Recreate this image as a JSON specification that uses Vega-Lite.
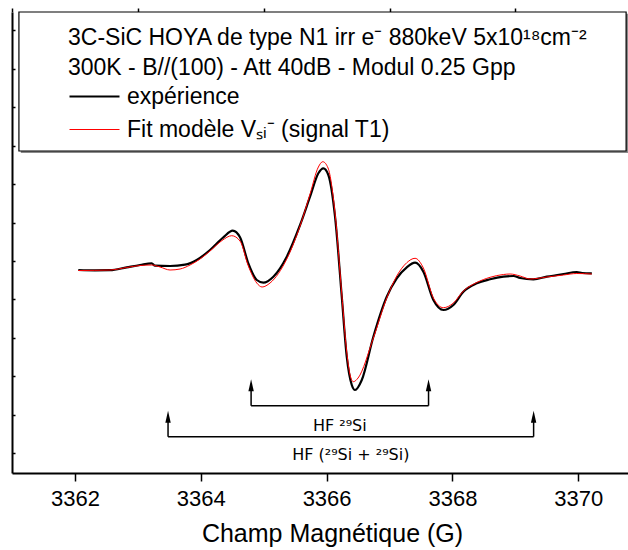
{
  "$schema": "https://vega.github.io/schema/vega-lite/v6.json",
  "width": 616,
  "height": 461,
  "padding": {"left": 12, "top": 12, "right": 0, "bottom": 77},
  "autosize": {"type": "none"},
  "background": "white",
  "config": {"view": {"stroke": null}, "font": "Liberation Sans", "axis": {"grid": false}},
  "datasets": {
    "black": [
      {"x": 3362.054, "y": 0.0425, "s": "expérience"},
      {"x": 3362.319, "y": 0.035, "s": "expérience"},
      {"x": 3362.558, "y": 0.0375, "s": "expérience"},
      {"x": 3362.823, "y": 0.11, "s": "expérience"},
      {"x": 3363.035, "y": 0.1675, "s": "expérience"},
      {"x": 3363.221, "y": 0.21, "s": "expérience"},
      {"x": 3363.273, "y": 0.15, "s": "expérience"},
      {"x": 3363.512, "y": 0.1425, "s": "expérience"},
      {"x": 3363.75, "y": 0.175, "s": "expérience"},
      {"x": 3363.936, "y": 0.2925, "s": "expérience"},
      {"x": 3364.147, "y": 0.5425, "s": "expérience"},
      {"x": 3364.359, "y": 0.86, "s": "expérience"},
      {"x": 3364.508, "y": 1.025, "s": "expérience"},
      {"x": 3364.624, "y": 0.86, "s": "expérience"},
      {"x": 3364.756, "y": 0.21, "s": "expérience"},
      {"x": 3364.89, "y": -0.2075, "s": "expérience"},
      {"x": 3364.995, "y": -0.275, "s": "expérience"},
      {"x": 3365.154, "y": -0.125, "s": "expérience"},
      {"x": 3365.367, "y": 0.375, "s": "expérience"},
      {"x": 3365.578, "y": 1.1675, "s": "expérience"},
      {"x": 3365.737, "y": 1.875, "s": "expérience"},
      {"x": 3365.869, "y": 2.46, "s": "expérience"},
      {"x": 3365.948, "y": 2.585, "s": "expérience"},
      {"x": 3366.028, "y": 2.4175, "s": "expérience"},
      {"x": 3366.134, "y": 1.375, "s": "expérience"},
      {"x": 3366.241, "y": -0.625, "s": "expérience"},
      {"x": 3366.32, "y": -2.125, "s": "expérience"},
      {"x": 3366.4, "y": -2.8325, "s": "expérience"},
      {"x": 3366.452, "y": -2.9575, "s": "expérience"},
      {"x": 3366.559, "y": -2.7075, "s": "expérience"},
      {"x": 3366.743, "y": -1.625, "s": "expérience"},
      {"x": 3366.956, "y": -0.625, "s": "expérience"},
      {"x": 3367.115, "y": -0.165, "s": "expérience"},
      {"x": 3367.274, "y": 0.11, "s": "expérience"},
      {"x": 3367.406, "y": 0.225, "s": "expérience"},
      {"x": 3367.538, "y": 0.0, "s": "expérience"},
      {"x": 3367.697, "y": -0.7075, "s": "expérience"},
      {"x": 3367.856, "y": -0.9575, "s": "expérience"},
      {"x": 3368.015, "y": -0.8325, "s": "expérience"},
      {"x": 3368.174, "y": -0.5, "s": "expérience"},
      {"x": 3368.387, "y": -0.29, "s": "expérience"},
      {"x": 3368.598, "y": -0.19, "s": "expérience"},
      {"x": 3368.81, "y": -0.125, "s": "expérience"},
      {"x": 3368.969, "y": -0.1075, "s": "expérience"},
      {"x": 3369.075, "y": -0.1575, "s": "expérience"},
      {"x": 3369.287, "y": -0.19, "s": "expérience"},
      {"x": 3369.5, "y": -0.125, "s": "expérience"},
      {"x": 3369.764, "y": -0.0575, "s": "expérience"},
      {"x": 3369.977, "y": -0.0075, "s": "expérience"},
      {"x": 3370.061, "y": -0.0325, "s": "expérience"},
      {"x": 3370.215, "y": -0.04, "s": "expérience"}
    ],
    "red": [
      {"x": 3362.054, "y": 0.03, "s": "Fit modèle Vₛᵢ⁻ (signal T1)"},
      {"x": 3362.558, "y": 0.0425, "s": "Fit modèle Vₛᵢ⁻ (signal T1)"},
      {"x": 3362.823, "y": 0.105, "s": "Fit modèle Vₛᵢ⁻ (signal T1)"},
      {"x": 3363.035, "y": 0.155, "s": "Fit modèle Vₛᵢ⁻ (signal T1)"},
      {"x": 3363.221, "y": 0.1675, "s": "Fit modèle Vₛᵢ⁻ (signal T1)"},
      {"x": 3363.353, "y": 0.1175, "s": "Fit modèle Vₛᵢ⁻ (signal T1)"},
      {"x": 3363.512, "y": 0.0425, "s": "Fit modèle Vₛᵢ⁻ (signal T1)"},
      {"x": 3363.671, "y": 0.0675, "s": "Fit modèle Vₛᵢ⁻ (signal T1)"},
      {"x": 3363.83, "y": 0.1675, "s": "Fit modèle Vₛᵢ⁻ (signal T1)"},
      {"x": 3363.988, "y": 0.3175, "s": "Fit modèle Vₛᵢ⁻ (signal T1)"},
      {"x": 3364.147, "y": 0.5175, "s": "Fit modèle Vₛᵢ⁻ (signal T1)"},
      {"x": 3364.338, "y": 0.78, "s": "Fit modèle Vₛᵢ⁻ (signal T1)"},
      {"x": 3364.492, "y": 0.9, "s": "Fit modèle Vₛᵢ⁻ (signal T1)"},
      {"x": 3364.624, "y": 0.7675, "s": "Fit modèle Vₛᵢ⁻ (signal T1)"},
      {"x": 3364.756, "y": 0.1425, "s": "Fit modèle Vₛᵢ⁻ (signal T1)"},
      {"x": 3364.89, "y": -0.2825, "s": "Fit modèle Vₛᵢ⁻ (signal T1)"},
      {"x": 3364.974, "y": -0.3825, "s": "Fit modèle Vₛᵢ⁻ (signal T1)"},
      {"x": 3365.101, "y": -0.2825, "s": "Fit modèle Vₛᵢ⁻ (signal T1)"},
      {"x": 3365.367, "y": 0.3175, "s": "Fit modèle Vₛᵢ⁻ (signal T1)"},
      {"x": 3365.578, "y": 1.1425, "s": "Fit modèle Vₛᵢ⁻ (signal T1)"},
      {"x": 3365.737, "y": 1.9425, "s": "Fit modèle Vₛᵢ⁻ (signal T1)"},
      {"x": 3365.869, "y": 2.6175, "s": "Fit modèle Vₛᵢ⁻ (signal T1)"},
      {"x": 3365.939, "y": 2.75, "s": "Fit modèle Vₛᵢ⁻ (signal T1)"},
      {"x": 3366.023, "y": 2.5925, "s": "Fit modèle Vₛᵢ⁻ (signal T1)"},
      {"x": 3366.134, "y": 1.4675, "s": "Fit modèle Vₛᵢ⁻ (signal T1)"},
      {"x": 3366.241, "y": -0.5575, "s": "Fit modèle Vₛᵢ⁻ (signal T1)"},
      {"x": 3366.32, "y": -2.0075, "s": "Fit modèle Vₛᵢ⁻ (signal T1)"},
      {"x": 3366.381, "y": -2.6325, "s": "Fit modèle Vₛᵢ⁻ (signal T1)"},
      {"x": 3366.425, "y": -2.75, "s": "Fit modèle Vₛᵢ⁻ (signal T1)"},
      {"x": 3366.5, "y": -2.6575, "s": "Fit modèle Vₛᵢ⁻ (signal T1)"},
      {"x": 3366.743, "y": -1.6575, "s": "Fit modèle Vₛᵢ⁻ (signal T1)"},
      {"x": 3366.956, "y": -0.6575, "s": "Fit modèle Vₛᵢ⁻ (signal T1)"},
      {"x": 3367.115, "y": -0.1075, "s": "Fit modèle Vₛᵢ⁻ (signal T1)"},
      {"x": 3367.274, "y": 0.225, "s": "Fit modèle Vₛᵢ⁻ (signal T1)"},
      {"x": 3367.406, "y": 0.335, "s": "Fit modèle Vₛᵢ⁻ (signal T1)"},
      {"x": 3367.538, "y": 0.0925, "s": "Fit modèle Vₛᵢ⁻ (signal T1)"},
      {"x": 3367.697, "y": -0.6575, "s": "Fit modèle Vₛᵢ⁻ (signal T1)"},
      {"x": 3367.856, "y": -0.9, "s": "Fit modèle Vₛᵢ⁻ (signal T1)"},
      {"x": 3368.015, "y": -0.7825, "s": "Fit modèle Vₛᵢ⁻ (signal T1)"},
      {"x": 3368.174, "y": -0.4825, "s": "Fit modèle Vₛᵢ⁻ (signal T1)"},
      {"x": 3368.387, "y": -0.27, "s": "Fit modèle Vₛᵢ⁻ (signal T1)"},
      {"x": 3368.598, "y": -0.14, "s": "Fit modèle Vₛᵢ⁻ (signal T1)"},
      {"x": 3368.81, "y": -0.07, "s": "Fit modèle Vₛᵢ⁻ (signal T1)"},
      {"x": 3368.916, "y": -0.0575, "s": "Fit modèle Vₛᵢ⁻ (signal T1)"},
      {"x": 3369.075, "y": -0.1075, "s": "Fit modèle Vₛᵢ⁻ (signal T1)"},
      {"x": 3369.234, "y": -0.1825, "s": "Fit modèle Vₛᵢ⁻ (signal T1)"},
      {"x": 3369.5, "y": -0.1325, "s": "Fit modèle Vₛᵢ⁻ (signal T1)"},
      {"x": 3369.764, "y": -0.0825, "s": "Fit modèle Vₛᵢ⁻ (signal T1)"},
      {"x": 3369.977, "y": -0.045, "s": "Fit modèle Vₛᵢ⁻ (signal T1)"},
      {"x": 3370.215, "y": -0.0575, "s": "Fit modèle Vₛᵢ⁻ (signal T1)"}
    ],
    "box": [{"x": 3361.11, "x2": 3370.76, "y": 3.0175, "y2": 6.4925}],
    "shadow": [{"x": 3361.14, "x2": 3370.79, "y": 2.97, "y2": 6.45}],
    "shafts": [
      {"x": 3364.8, "y": -3.35, "y2": -2.9},
      {"x": 3367.62, "y": -3.35, "y2": -2.9},
      {"x": 3363.48, "y": -4.125, "y2": -3.7},
      {"x": 3369.29, "y": -4.125, "y2": -3.7}
    ],
    "heads": [
      {"x": 3364.8, "y": -2.84},
      {"x": 3367.62, "y": -2.84},
      {"x": 3363.48, "y": -3.625},
      {"x": 3369.29, "y": -3.625}
    ],
    "brackets": [
      {"x": 3364.8, "x2": 3367.62, "y": -3.35},
      {"x": 3363.48, "x2": 3369.29, "y": -4.125}
    ],
    "labels": [
      {"x": 3366.21, "y": -3.98, "t": "HF ²⁹Si"},
      {"x": 3366.385, "y": -4.71, "t": "HF (²⁹Si + ²⁹Si)"}
    ]
  },
  "resolve": {"axis": {"x": "independent"}},
  "layer": [
    {
      "data": {"name": "shadow"},
      "mark": {"type": "rect", "fill": "#8a8a8a"},
      "encoding": {
        "x": {"field": "x", "type": "quantitative", "axis": null, "scale": {"domain": [3361, 3370.79], "nice": false, "zero": false}},
        "x2": {"field": "x2"},
        "y": {"field": "y", "type": "quantitative", "title": null, "scale": {"domain": [-5.0325, 6.4925], "nice": false, "zero": false}},
        "y2": {"field": "y2"}
      }
    },
    {
      "data": {"name": "box"},
      "mark": {"type": "rect", "fill": "white", "stroke": "black", "strokeWidth": 1.2},
      "encoding": {
        "x": {"field": "x", "type": "quantitative", "axis": null},
        "x2": {"field": "x2"},
        "y": {"field": "y", "type": "quantitative", "title": null},
        "y2": {"field": "y2"}
      }
    },
    {
      "data": {"name": "black"},
      "mark": {"type": "line", "interpolate": "monotone"},
      "encoding": {
        "x": {
          "field": "x", "type": "quantitative",
          "axis": {
            "values": [3362, 3364, 3366, 3368, 3370], "format": "d",
            "tickSize": 8, "tickWidth": 1.5, "tickColor": "black",
            "domainColor": "black", "domainWidth": 2,
            "labelFontSize": 22, "labelColor": "black", "labelPadding": 7.6, "labelFont": "Liberation Sans",
            "labelFlush": false, "labelOverlap": false,
            "title": "Champ Magnétique (G)", "titleFont": "Liberation Sans", "titleFontSize": 25,
            "titleFontWeight": "normal", "titleColor": "black",
            "titleX": 320, "titleY": 68.7, "titleBaseline": "alphabetic", "titleAlign": "center"
          }
        },
        "y": {
          "field": "y", "type": "quantitative", "title": null,
          "axis": {
            "values": [6.03, 5.07, 4.11, 3.15, 2.19, 1.23, 0.27, -0.69, -1.65, -2.61, -3.57, -4.53],
            "labels": false, "domainColor": "black", "domainWidth": 2,
            "tickSize": -3, "tickColor": "black", "tickWidth": 1.5, "title": null
          }
        },
        "color": {
          "field": "s", "type": "nominal",
          "scale": {"domain": ["expérience", "Fit modèle Vₛᵢ⁻ (signal T1)"], "range": ["#000000", "#ff0000"]},
          "legend": {
            "title": ["3C-SiC HOYA de type N1 irr e⁻ 880keV 5x10¹⁸cm⁻²", "300K - B//(100) - Att 40dB - Modul 0.25 Gpp"],
            "orient": "none", "legendX": 56, "legendY": 15, "padding": 0,
            "titleFont": "Liberation Sans", "titleFontSize": 23, "titleFontWeight": "normal", "titleColor": "black",
            "titleLineHeight": 30, "titlePadding": 0, "titleLimit": 600,
            "labelFont": "Liberation Sans", "labelFontSize": 23, "labelColor": "black", "labelLimit": 600,
            "labelOffset": 6, "symbolType": "stroke", "symbolSize": 2500, "clipHeight": 33, "rowPadding": 0
          }
        },
        "strokeWidth": {
          "field": "s", "type": "nominal",
          "scale": {"domain": ["expérience", "Fit modèle Vₛᵢ⁻ (signal T1)"], "range": [2.2, 1]},
          "legend": {
            "title": ["3C-SiC HOYA de type N1 irr e⁻ 880keV 5x10¹⁸cm⁻²", "300K - B//(100) - Att 40dB - Modul 0.25 Gpp"],
            "orient": "none", "legendX": 56, "legendY": 15, "padding": 0,
            "titleFont": "Liberation Sans", "titleFontSize": 23, "titleFontWeight": "normal", "titleColor": "black",
            "titleLineHeight": 30, "titlePadding": 0, "titleLimit": 600,
            "labelFont": "Liberation Sans", "labelFontSize": 23, "labelColor": "black", "labelLimit": 600,
            "labelOffset": 6, "symbolType": "stroke", "symbolSize": 2500, "clipHeight": 33, "rowPadding": 0
          }
        }
      }
    },
    {
      "data": {"name": "red"},
      "mark": {"type": "line", "interpolate": "monotone"},
      "encoding": {
        "x": {
          "field": "x", "type": "quantitative",
          "axis": {
            "values": [3361, 3363, 3365, 3367, 3369], "labels": false, "domain": false,
            "tickSize": 4, "tickWidth": 1.5, "tickColor": "black", "title": null
          }
        },
        "y": {"field": "y", "type": "quantitative", "title": null},
        "color": {"field": "s", "type": "nominal"},
        "strokeWidth": {"field": "s", "type": "nominal"}
      }
    },
    {
      "data": {"name": "shafts"},
      "mark": {"type": "rule", "color": "black", "strokeWidth": 1.5},
      "encoding": {
        "x": {"field": "x", "type": "quantitative", "axis": null},
        "y": {"field": "y", "type": "quantitative", "title": null},
        "y2": {"field": "y2"}
      }
    },
    {
      "data": {"name": "brackets"},
      "mark": {"type": "rule", "color": "black", "strokeWidth": 1.5},
      "encoding": {
        "x": {"field": "x", "type": "quantitative", "axis": null},
        "x2": {"field": "x2"},
        "y": {"field": "y", "type": "quantitative", "title": null}
      }
    },
    {
      "data": {"name": "heads"},
      "mark": {"type": "point", "shape": "M0,-1L-0.45,1L0.45,1Z", "filled": true, "color": "black", "size": 144, "opacity": 1},
      "encoding": {
        "x": {"field": "x", "type": "quantitative", "axis": null},
        "y": {"field": "y", "type": "quantitative", "title": null}
      }
    },
    {
      "data": {"name": "labels"},
      "mark": {"type": "text", "font": "DejaVu Sans", "fontSize": 16, "align": "center", "baseline": "alphabetic", "color": "black"},
      "encoding": {
        "x": {"field": "x", "type": "quantitative", "axis": null},
        "y": {"field": "y", "type": "quantitative", "title": null},
        "text": {"field": "t"}
      }
    }
  ]
}
